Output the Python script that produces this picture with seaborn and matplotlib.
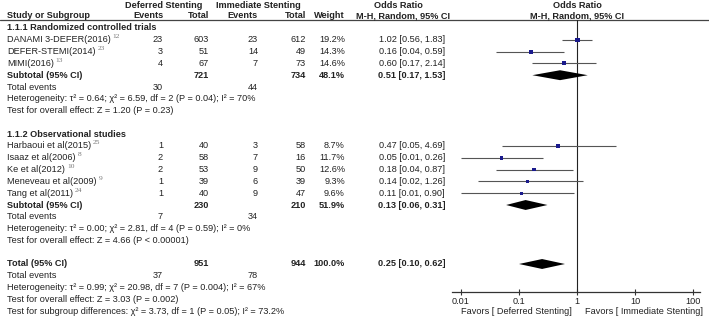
import numpy as np
import pandas as pd
import matplotlib
matplotlib.use("Agg")
import matplotlib.pyplot as plt
import seaborn as sns

# ---------------- data ----------------
rct_names = ["DANAMI 3-DEFER(2016)", "DEFER-STEMI(2014)", "MIMI(2016)"]
rct_refs = ["12", "23", "13"]
rct_def_ev = [23, 3, 4]
rct_def_tot = [603, 51, 67]
rct_imm_ev = [23, 14, 7]
rct_imm_tot = [612, 49, 73]
rct_weight = [19.2, 14.3, 14.6]
rct_or = [1.02, 0.16, 0.60]
rct_lo = [0.56, 0.04, 0.17]
rct_hi = [1.83, 0.59, 2.14]

obs_names = ["Harbaoui et al(2015)", "Isaaz et al(2006)", "Ke et al(2012)",
             "Meneveau et al(2009)", "Tang et al(2011)"]
obs_refs = ["25", "8", "10", "9", "24"]
obs_def_ev = [1, 2, 2, 1, 1]
obs_def_tot = [40, 58, 53, 39, 40]
obs_imm_ev = [3, 7, 9, 6, 9]
obs_imm_tot = [58, 16, 50, 39, 47]
obs_weight = [8.7, 11.7, 12.6, 9.3, 9.6]
obs_or = [0.47, 0.05, 0.18, 0.14, 0.11]
obs_lo = [0.05, 0.01, 0.04, 0.02, 0.01]
obs_hi = [4.69, 0.26, 0.87, 1.26, 0.90]

sub_labels = ["Subtotal (95% CI)", "Subtotal (95% CI)", "Total (95% CI)"]
sub_def_tot = [721, 230, 951]
sub_imm_tot = [734, 210, 944]
sub_weight = ["48.1%", "51.9%", "100.0%"]
sub_or = [0.51, 0.13, 0.25]
sub_lo = [0.17, 0.06, 0.10]
sub_hi = [1.53, 0.31, 0.62]
sub_def_events = [30, 7, 37]
sub_imm_events = [44, 34, 78]
sub_het = ["Heterogeneity: τ² = 0.64; χ² = 6.59, df = 2 (P = 0.04); I² = 70%",
           "Heterogeneity: τ² = 0.00; χ² = 2.81, df = 4 (P = 0.59); I² = 0%",
           "Heterogeneity: τ² = 0.99; χ² = 20.98, df = 7 (P = 0.004); I² = 67%"]
sub_test = ["Test for overall effect: Z = 1.20 (P = 0.23)",
            "Test for overall effect: Z = 4.66 (P < 0.00001)",
            "Test for overall effect: Z = 3.03 (P = 0.002)"]
subgroup_diff = "Test for subgroup differences: χ² = 3.73, df = 1 (P = 0.05); I² = 73.2%"
group_titles = ["1.1.1 Randomized controlled trials", "1.1.2 Observational studies"]

tick_vals = [0.01, 0.1, 1, 10, 100]
tick_labels = ["0.01", "0.1", "1", "10", "100"]
favors_left = "Favors [ Deferred Stenting]"
favors_right = "Favors [ Immediate Stenting]"

# ---------------- style ----------------
sns.set_theme(style="white")
plt.rcParams["font.family"] = ["Liberation Sans", "DejaVu Sans"]
FS = 6.6
TC = "#222222"

W, H = 709, 325
fig = plt.figure(figsize=(W / 100, H / 100), dpi=100)

# text layer in pixel coordinates
tax = fig.add_axes([0, 0, 1, 1])
tax.set_xlim(0, W)
tax.set_ylim(H, 0)
tax.axis("off")

ROW0, DY = 28.0, 11.8


def ry(i):
    return ROW0 + DY * i


X_STUDY, X_DEV, X_DTOT, X_IEV, X_ITOT, X_W, X_OR = 7, 163, 209, 258, 306, 345, 445


def txt(x, y, s, ha="left", bold=False):
    return tax.text(x, y, s, ha=ha, va="center", fontsize=FS, color=TC,
                    fontweight="bold" if bold else "normal")


# header
for x, s in [(164, "Deferred Stenting"), (258, "Immediate Stenting"),
             (398, "Odds Ratio"), (577, "Odds Ratio")]:
    txt(x, 5, s, ha="center", bold=True)
txt(X_STUDY, 16, "Study or Subgroup", bold=True)
for x, s in [(X_DEV, "Events"), (X_DTOT, "Total"), (X_IEV, "Events"),
             (X_ITOT, "Total"), (X_W, "Weight")]:
    txt(x, 16, s, ha="right", bold=True)
txt(403, 16, "M-H, Random, 95% CI", ha="center", bold=True)
txt(577, 16, "M-H, Random, 95% CI", ha="center", bold=True)
tax.axhline(19.8, color="#444444", lw=0.9)

# study rows
groups = [
    (rct_names, rct_refs, rct_def_ev, rct_def_tot, rct_imm_ev, rct_imm_tot,
     rct_weight, rct_or, rct_lo, rct_hi),
    (obs_names, obs_refs, obs_def_ev, obs_def_tot, obs_imm_ev, obs_imm_tot,
     obs_weight, obs_or, obs_lo, obs_hi),
]

records = []
sub_rows = []
name_texts = []
row = 0
for g, grp in enumerate(groups):
    names, refs, dev, dtot, iev, itot, wt, orv, lo, hi = grp
    txt(X_STUDY, ry(row), group_titles[g], bold=True)
    row += 1
    for k in range(len(names)):
        t = txt(X_STUDY, ry(row), names[k])
        name_texts.append((t, refs[k], ry(row)))
        txt(X_DEV, ry(row), str(dev[k]), ha="right")
        txt(X_DTOT, ry(row), str(dtot[k]), ha="right")
        txt(X_IEV, ry(row), str(iev[k]), ha="right")
        txt(X_ITOT, ry(row), str(itot[k]), ha="right")
        txt(X_W, ry(row), f"{wt[k]:.1f}%", ha="right")
        txt(X_OR, ry(row), f"{orv[k]:.2f} [{lo[k]:.2f}, {hi[k]:.2f}]", ha="right")
        records.append(dict(row=row, est=orv[k], lo=lo[k], hi=hi[k], weight=wt[k]))
        row += 1
    # subtotal
    txt(X_STUDY, ry(row), sub_labels[g], bold=True)
    txt(X_DTOT, ry(row), str(sub_def_tot[g]), ha="right", bold=True)
    txt(X_ITOT, ry(row), str(sub_imm_tot[g]), ha="right", bold=True)
    txt(X_W, ry(row), sub_weight[g], ha="right", bold=True)
    txt(X_OR, ry(row), f"{sub_or[g]:.2f} [{sub_lo[g]:.2f}, {sub_hi[g]:.2f}]", ha="right", bold=True)
    sub_rows.append(row)
    row += 1
    txt(X_STUDY, ry(row), "Total events")
    txt(X_DEV, ry(row), str(sub_def_events[g]), ha="right")
    txt(X_IEV, ry(row), str(sub_imm_events[g]), ha="right")
    row += 1
    txt(X_STUDY, ry(row), sub_het[g])
    row += 1
    txt(X_STUDY, ry(row), sub_test[g])
    row += 2

# overall total
g = 2
txt(X_STUDY, ry(row), sub_labels[g], bold=True)
txt(X_DTOT, ry(row), str(sub_def_tot[g]), ha="right", bold=True)
txt(X_ITOT, ry(row), str(sub_imm_tot[g]), ha="right", bold=True)
txt(X_W, ry(row), sub_weight[g], ha="right", bold=True)
txt(X_OR, ry(row), f"{sub_or[g]:.2f} [{sub_lo[g]:.2f}, {sub_hi[g]:.2f}]", ha="right", bold=True)
sub_rows.append(row)
row += 1
txt(X_STUDY, ry(row), "Total events")
txt(X_DEV, ry(row), str(sub_def_events[g]), ha="right")
txt(X_IEV, ry(row), str(sub_imm_events[g]), ha="right")
row += 1
txt(X_STUDY, ry(row), sub_het[g])
row += 1
txt(X_STUDY, ry(row), sub_test[g])
row += 1
txt(X_STUDY, ry(row), subgroup_diff)

# superscript references next to study names
fig.canvas.draw()
renderer = fig.canvas.get_renderer()
inv = tax.transData.inverted()
for t, ref, y in name_texts:
    bb = t.get_window_extent(renderer)
    xr = inv.transform((bb.x1, bb.y0))[0]
    tax.text(xr + 2, y - 3.2, ref, ha="left", va="center", fontsize=5.4,
             color="#777777", family=["Liberation Serif", "DejaVu Serif"])

# ---------------- forest axis ----------------
AX_L, AX_R, AX_T, AX_B = 452, 700, 20, 292
fax = fig.add_axes([AX_L / W, (H - AX_B) / H, (AX_R - AX_L) / W, (AX_B - AX_T) / H])
fax.set_facecolor("none")
fax.set_xscale("log")
PXD = 58.0
fax.set_xlim(10 ** ((AX_L - 577) / PXD), 10 ** ((AX_R - 577) / PXD))
fax.set_ylim((AX_B - ROW0) / DY, (AX_T - ROW0) / DY)

df = pd.DataFrame(records)
fax.hlines(df["row"], df["lo"], df["hi"], color="#555555", lw=0.8, zorder=2)
sns.scatterplot(data=df, x="est", y="row", marker="s", size="weight",
                sizes=(5.5, 10), size_norm=(8.7, 19.2), color="#1a1a8c",
                linewidth=0, legend=False, ax=fax, zorder=3)

HD = 0.42
for r, e, lo, hi in zip(sub_rows, sub_or, sub_lo, sub_hi):
    fax.fill([lo, e, hi, e], [r, r - HD, r, r + HD], color="black", lw=0, zorder=3)

fax.axvline(1, color="#222222", lw=0.8, zorder=1)

for s in ["top", "right", "left"]:
    fax.spines[s].set_visible(False)
fax.spines["bottom"].set_color("#333333")
fax.spines["bottom"].set_linewidth(0.9)
fax.set_yticks([])
fax.set_xticks(tick_vals)
fax.set_xticklabels(tick_labels)
fax.xaxis.set_minor_locator(matplotlib.ticker.NullLocator())
fax.tick_params(axis="x", which="major", direction="inout", length=5, width=0.8,
                color="#333333", labelsize=FS, labelcolor=TC, pad=1, bottom=True)
fax.set_xlabel("")
fax.set_ylabel("")
fax.grid(False)

fax.annotate(favors_left, xy=(1, 0), xycoords=("data", "axes fraction"),
             xytext=(-3.6, -14.4), textcoords="offset points", ha="right",
             va="center", fontsize=FS, color=TC)
fax.annotate(favors_right, xy=(1, 0), xycoords=("data", "axes fraction"),
             xytext=(5.8, -14.4), textcoords="offset points", ha="left",
             va="center", fontsize=FS, color=TC)

fig.savefig("out.png", dpi=100)
